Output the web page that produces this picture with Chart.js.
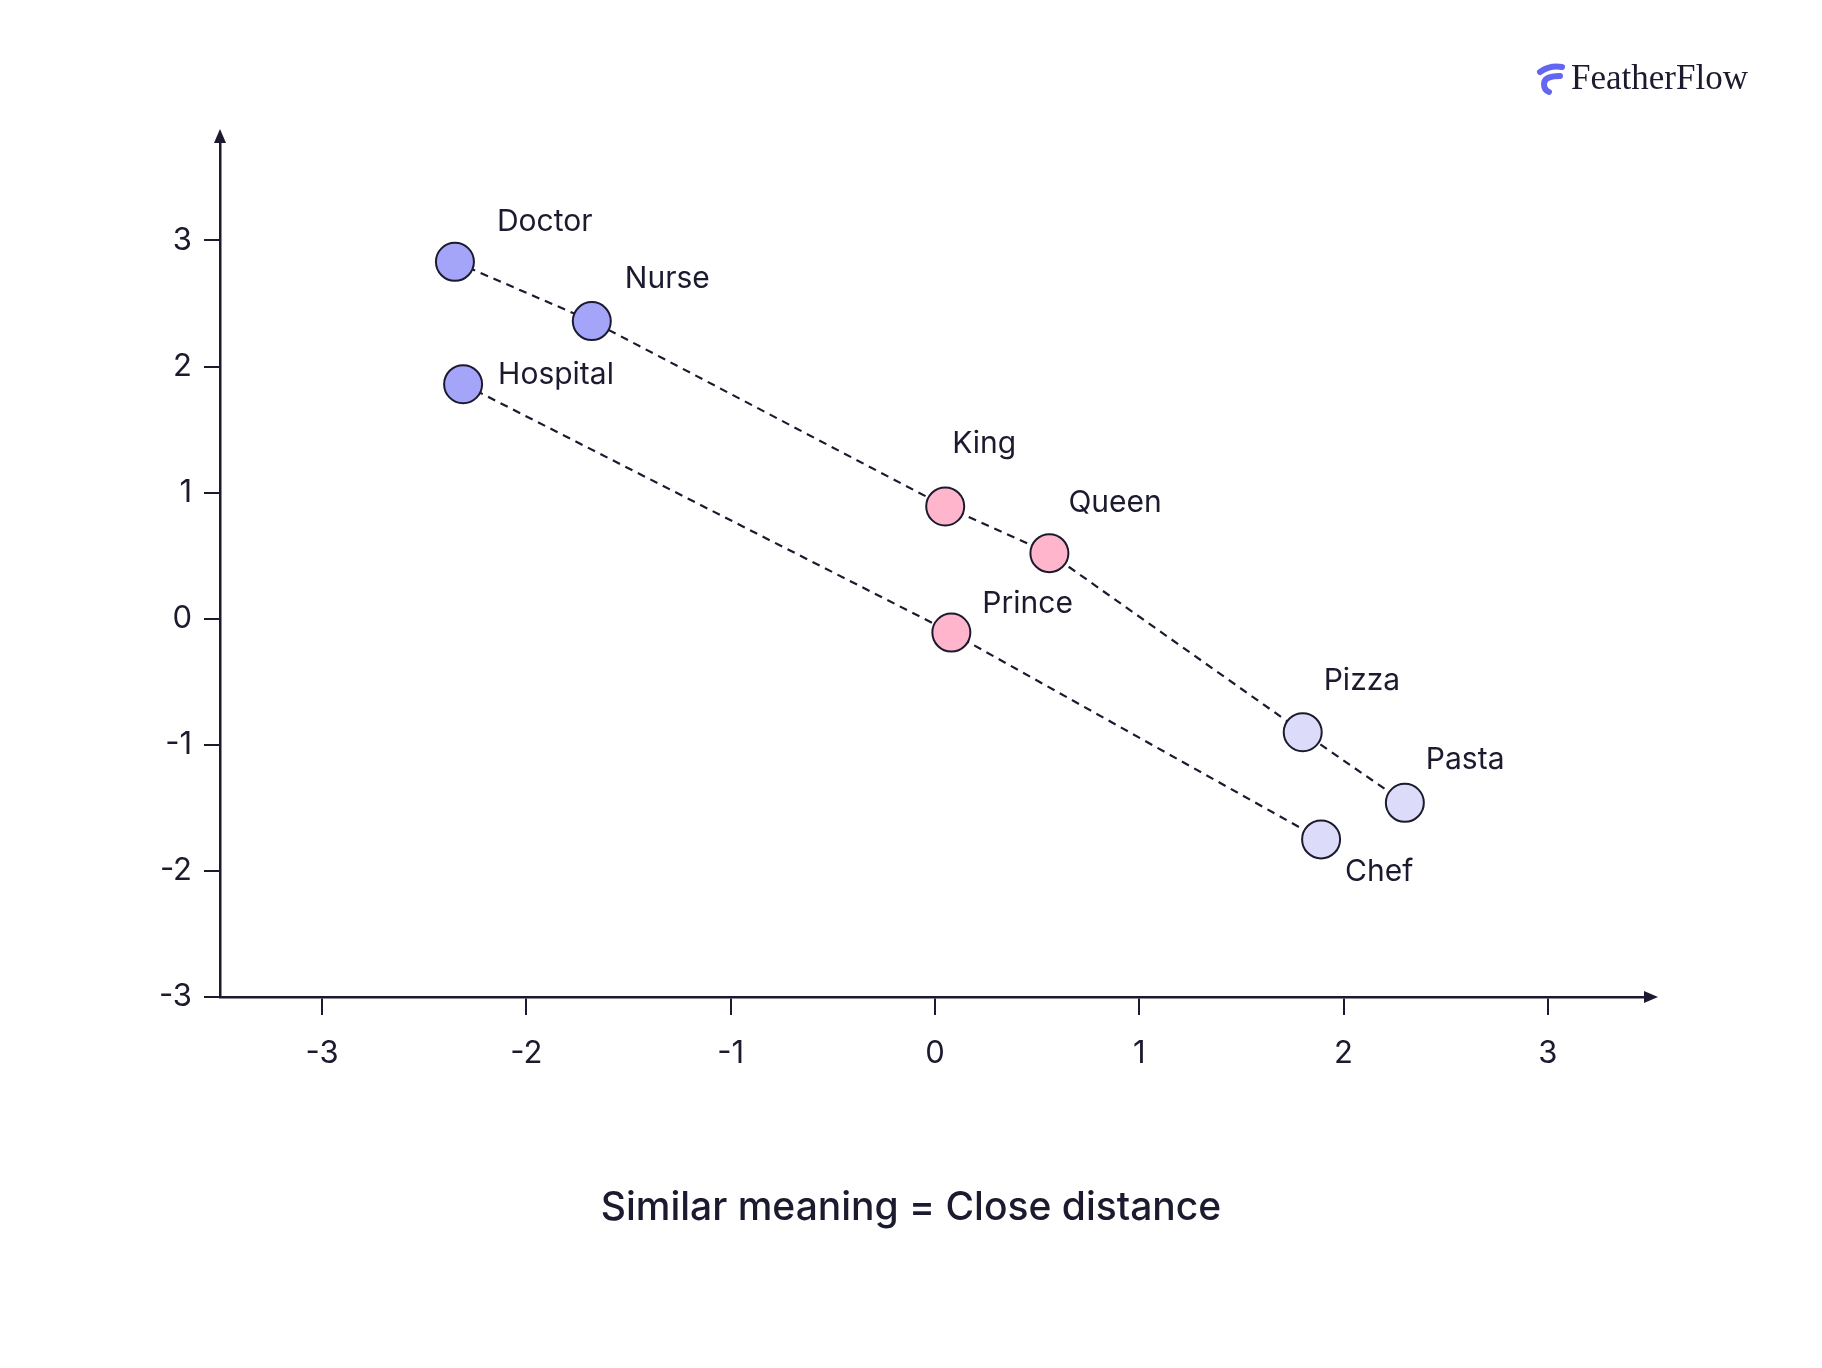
<!DOCTYPE html>
<html>
<head>
<meta charset="utf-8">
<script src="https://cdn.jsdelivr.net/npm/chart.js@4"></script>
<style>
  body { margin: 0; background: #fff; }
  #wrap { width: 1822px; height: 1368px; position: relative; }
</style>
</head>
<body>
<div id="wrap"><canvas id="embedChart" width="1822" height="1368"></canvas></div>
<script>
const ink = '#1b1a2e';
const words = [
  { name: 'Doctor', x: -2.35, y: 2.83, clr: '#a4a5f8', dx: 42, dy: -40 },
  { name: 'Nurse', x: -1.68, y: 2.36, clr: '#a4a5f8', dx: 33, dy: -42 },
  { name: 'Hospital', x: -2.31, y: 1.86, clr: '#a4a5f8', dx: 35, dy: -9 },
  { name: 'King', x: 0.05, y: 0.89, clr: '#ffb6cc', dx: 7, dy: -62 },
  { name: 'Queen', x: 0.56, y: 0.52, clr: '#ffb6cc', dx: 19, dy: -50 },
  { name: 'Prince', x: 0.08, y: -0.11, clr: '#ffb6cc', dx: 31, dy: -29 },
  { name: 'Pizza', x: 1.80, y: -0.90, clr: '#dcdbfa', dx: 21, dy: -51 },
  { name: 'Pasta', x: 2.30, y: -1.46, clr: '#dcdbfa', dx: 21, dy: -43 },
  { name: 'Chef', x: 1.89, y: -1.75, clr: '#dcdbfa', dx: 24, dy: 33 },
];
const byName = {};
words.forEach(w => byName[w.name] = w);
const chains = [
  ['Doctor', 'Nurse', 'King', 'Queen', 'Pizza', 'Pasta'],
  ['Hospital', 'Prince', 'Chef'],
];

const intTicks = (lo, hi) => scale => {
  scale.ticks = [];
  for (let v = lo; v <= hi; v++) scale.ticks.push({ value: v });
};

const extras = {
  id: 'extras',
  beforeDatasetsDraw(chart) {
    const { ctx, scales: { x, y }, chartArea: a } = chart;
    ctx.save();
    // arrows
    ctx.fillStyle = ink;
    ctx.beginPath();
    ctx.moveTo(a.left, a.top - 8); ctx.lineTo(a.left - 6, a.top + 6); ctx.lineTo(a.left + 6, a.top + 6); ctx.closePath(); ctx.fill();
    ctx.beginPath();
    ctx.moveTo(a.right + 8, a.bottom); ctx.lineTo(a.right - 6, a.bottom - 6); ctx.lineTo(a.right - 6, a.bottom + 6); ctx.closePath(); ctx.fill();
    // dashed links
    ctx.strokeStyle = ink; ctx.lineWidth = 2.2; ctx.setLineDash([8, 6]);
    chains.forEach(c => {
      ctx.beginPath();
      c.forEach((n, i) => {
        const px = x.getPixelForValue(byName[n].x), py = y.getPixelForValue(byName[n].y);
        i ? ctx.lineTo(px, py) : ctx.moveTo(px, py);
      });
      ctx.stroke();
    });
    ctx.restore();
  },
  afterDatasetsDraw(chart) {
    const { ctx, scales: { x, y } } = chart;
    ctx.save();
    ctx.fillStyle = ink;
    ctx.font = '30px Inter';
    ctx.textBaseline = 'middle';
    words.forEach(w => {
      ctx.fillText(w.name, x.getPixelForValue(w.x) + w.dx, y.getPixelForValue(w.y) + w.dy);
    });
    ctx.font = '500 39px Inter';
    ctx.textAlign = 'center';
    ctx.fillText('Similar meaning = Close distance', 911, 1208);
    // logo
    ctx.textAlign = 'left';
    ctx.font = '35px "Liberation Serif"';
    ctx.fillText('FeatherFlow', 1571, 80);
    ctx.fillStyle = '#6366f1';
    ctx.lineCap = 'round';
    ctx.strokeStyle = '#6366f1';
    ctx.lineWidth = 6;
    ctx.beginPath();
    ctx.moveTo(1540, 72);
    ctx.quadraticCurveTo(1550, 65, 1562, 67);
    ctx.stroke();
    ctx.beginPath();
    ctx.moveTo(1560, 76);
    ctx.quadraticCurveTo(1544, 76, 1544, 84);
    ctx.quadraticCurveTo(1544, 90, 1549, 92);
    ctx.stroke();
    ctx.restore();
  }
};

new Chart(document.getElementById('embedChart'), {
  type: 'scatter',
  data: {
    datasets: [{
      data: words.map(w => ({ x: w.x, y: w.y })),
      backgroundColor: words.map(w => w.clr),
      borderColor: ink, borderWidth: 2, pointRadius: 19, pointHoverRadius: 19
    }]
  },
  options: {
    responsive: false, animation: false, devicePixelRatio: 1,
    layout: { padding: { top: 137, right: 172, left: 0, bottom: 0 } },
    plugins: { legend: { display: false }, tooltip: { enabled: false } },
    scales: {
      x: {
        min: -3.5, max: 3.5,
        afterBuildTicks: intTicks(-3, 3),
        afterFit: s => { s.height = 371; },
        grid: { drawOnChartArea: false, tickLength: 18, color: ink, lineWidth: 2 },
        border: { color: ink, width: 2.5 },
        ticks: { color: ink, font: { family: 'Inter', size: 31 }, padding: 20 }
      },
      y: {
        min: -3, max: 3.82,
        afterBuildTicks: intTicks(-3, 3),
        afterFit: s => { s.width = 220; },
        grid: { drawOnChartArea: false, tickLength: 16, color: ink, lineWidth: 2 },
        border: { color: ink, width: 2.5 },
        ticks: { color: ink, font: { family: 'Inter', size: 31 }, padding: 12 }
      }
    }
  },
  plugins: [extras]
});
</script>
</body>
</html>
